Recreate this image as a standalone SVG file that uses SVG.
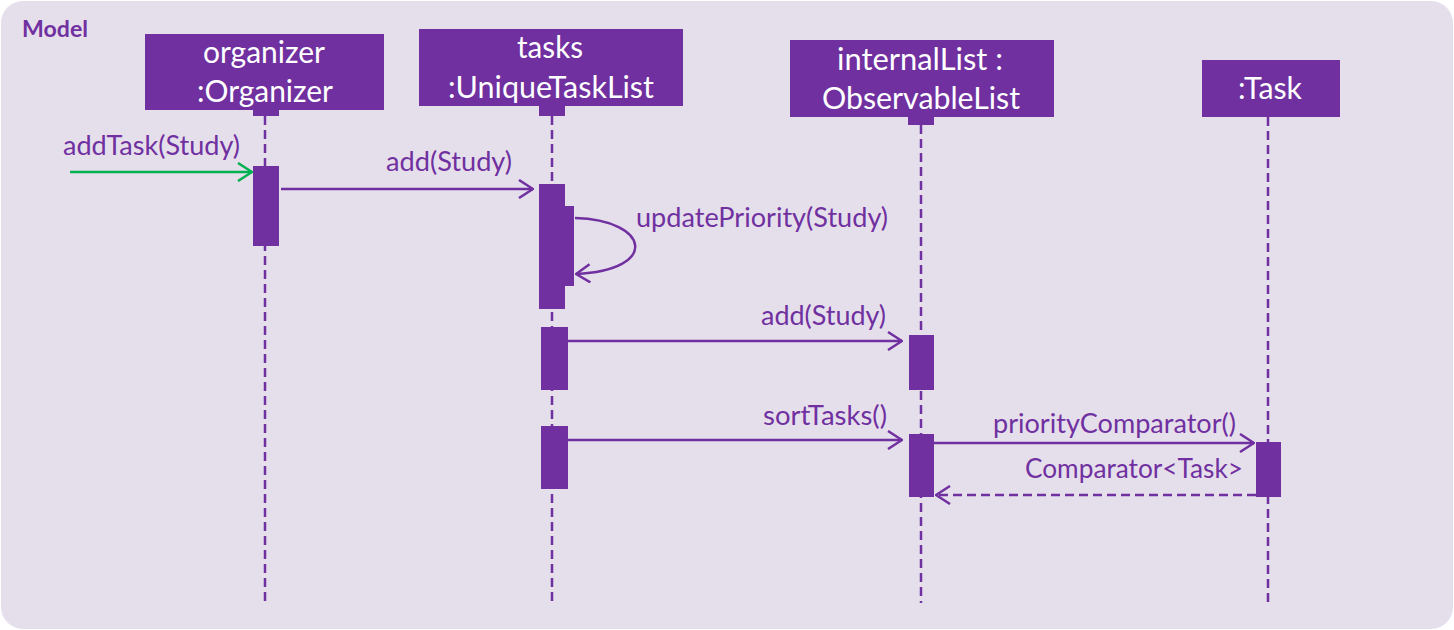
<svg xmlns="http://www.w3.org/2000/svg" width="1454" height="630" viewBox="0 0 1454 630">
<style>
.bg{fill:#E5DFEC}
.box{fill:#7030A0}
.bt{font-family:Lato,"Liberation Sans",sans-serif;font-size:30px;fill:#FFFFFF;text-anchor:middle}
.lbl{font-family:Lato,"Liberation Sans",sans-serif;font-size:26px;fill:#7030A0}
.life{stroke:#7030A0;stroke-width:2.5;stroke-dasharray:9 5;fill:none}
.msg{stroke:#7030A0;stroke-width:2.5;fill:none}
.ret{stroke:#7030A0;stroke-width:2.5;fill:none;stroke-dasharray:9 5}
.act{fill:#7030A0}
</style>
<defs>
<marker id="arr" viewBox="0 0 16 20" refX="15" refY="10" markerWidth="16" markerHeight="20" markerUnits="userSpaceOnUse" orient="auto">
<path d="M1,1 L15,10 L1,19" fill="none" stroke="#7030A0" stroke-width="2.5"/>
</marker>
<marker id="arrg" viewBox="0 0 16 20" refX="15" refY="10" markerWidth="16" markerHeight="20" markerUnits="userSpaceOnUse" orient="auto">
<path d="M1,1 L15,10 L1,19" fill="none" stroke="#00B050" stroke-width="2.5"/>
</marker>
</defs>
<rect class="bg" x="1" y="1" width="1452" height="628" rx="22" ry="22"/>
<text x="22" y="37" font-family="Lato,'Liberation Sans',sans-serif" font-size="22" font-weight="bold" fill="#7030A0" textLength="66" lengthAdjust="spacingAndGlyphs">Model</text>

<g id="organizer">
<line class="life" x1="265" y1="116" x2="265" y2="603"/>
<rect class="box" x="145" y="34" width="239" height="76"/>
<rect class="box" x="253" y="109" width="26" height="7"/>
<text class="bt" x="264" y="63" textLength="122" lengthAdjust="spacingAndGlyphs">organizer</text>
<text class="bt" x="265" y="102" textLength="136" lengthAdjust="spacingAndGlyphs">:Organizer</text>
<rect class="act" x="253" y="166" width="26" height="80"/>
</g>

<g id="tasks">
<line class="life" x1="552" y1="116" x2="552" y2="603"/>
<rect class="box" x="419" y="29" width="264" height="77"/>
<rect class="box" x="539" y="105" width="26" height="11"/>
<text class="bt" x="550" y="58" textLength="66" lengthAdjust="spacingAndGlyphs">tasks</text>
<text class="bt" x="551" y="98" textLength="206" lengthAdjust="spacingAndGlyphs">:UniqueTaskList</text>
<rect class="act" x="539" y="184" width="26" height="125"/>
<rect class="act" x="548" y="206" width="26" height="80"/>
<rect class="act" x="541" y="327" width="27" height="63"/>
<rect class="act" x="541" y="426" width="27" height="63"/>
</g>

<g id="internalList">
<line class="life" x1="921" y1="125" x2="921" y2="603"/>
<rect class="box" x="790" y="40" width="264" height="77"/>
<rect class="box" x="908" y="116" width="26" height="9"/>
<text class="bt" x="920" y="70" textLength="166" lengthAdjust="spacingAndGlyphs">internalList :</text>
<text class="bt" x="921" y="109" textLength="198" lengthAdjust="spacingAndGlyphs">ObservableList</text>
<rect class="act" x="909" y="335" width="25" height="55"/>
<rect class="act" x="909" y="434" width="25" height="63"/>
</g>

<g id="task">
<line class="life" x1="1268" y1="117" x2="1268" y2="603"/>
<rect class="box" x="1202" y="60" width="138" height="57"/>
<text class="bt" x="1270" y="99" textLength="64" lengthAdjust="spacingAndGlyphs">:Task</text>
<rect class="act" x="1256" y="442" width="25" height="55"/>
</g>

<g id="connectors">
<line x1="70" y1="172" x2="252" y2="172" stroke="#00B050" stroke-width="2.5" marker-end="url(#arrg)"/>
<text class="lbl" x="63" y="155" textLength="177" lengthAdjust="spacingAndGlyphs">addTask(Study)</text>

<line class="msg" x1="281" y1="189" x2="533" y2="189" marker-end="url(#arr)"/>
<text class="lbl" x="386" y="171" textLength="126" lengthAdjust="spacingAndGlyphs">add(Study)</text>

<path class="msg" d="M575,218 C650,220 660,270 576,274" marker-end="url(#arr)"/>
<text class="lbl" x="636" y="227" textLength="252" lengthAdjust="spacingAndGlyphs">updatePriority(Study)</text>

<line class="msg" x1="568" y1="341" x2="902" y2="341" marker-end="url(#arr)"/>
<text class="lbl" x="761" y="325" textLength="125" lengthAdjust="spacingAndGlyphs">add(Study)</text>

<line class="msg" x1="568" y1="440" x2="902" y2="440" marker-end="url(#arr)"/>
<text class="lbl" x="763" y="425" textLength="124" lengthAdjust="spacingAndGlyphs">sortTasks()</text>

<line class="msg" x1="934" y1="443" x2="1254" y2="443" marker-end="url(#arr)"/>
<text class="lbl" x="993" y="433" textLength="243" lengthAdjust="spacingAndGlyphs">priorityComparator()</text>

<line class="ret" x1="1256" y1="495" x2="936" y2="495" marker-end="url(#arr)"/>
<text class="lbl" x="1025" y="478" textLength="218" lengthAdjust="spacingAndGlyphs">Comparator&lt;Task&gt;</text>
</g>
</svg>
